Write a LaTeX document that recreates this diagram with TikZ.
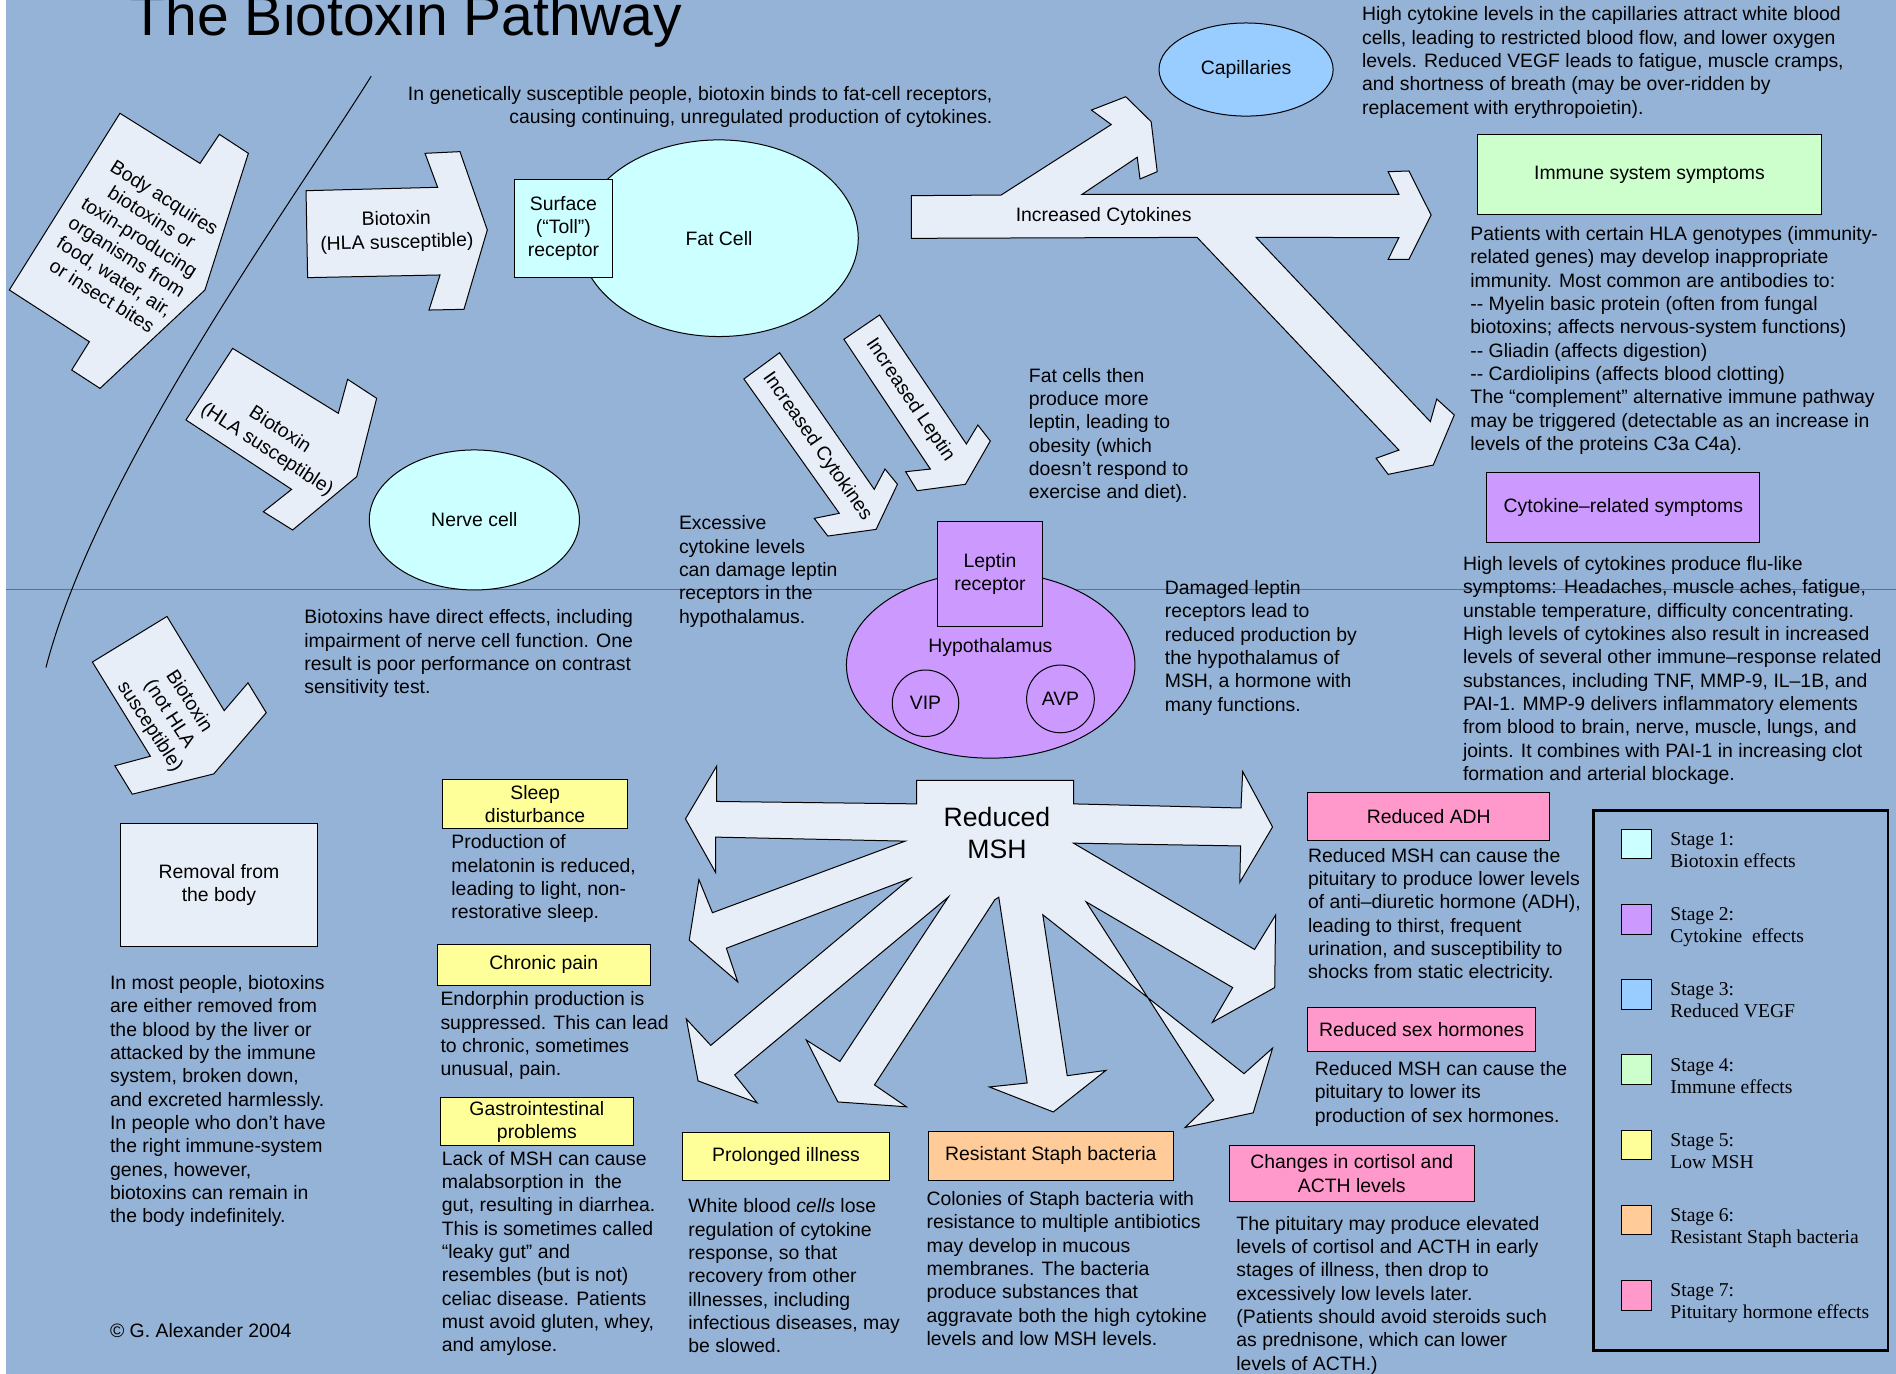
\documentclass[tikz,border=0pt]{standalone}
\usepackage{fontspec}
\setmainfont{Liberation Sans}
\newfontfamily\tmsfont{Liberation Serif}
\usetikzlibrary{shapes.geometric}
\definecolor{bgblue}{RGB}{149,179,215}
\definecolor{arrowfill}{RGB}{232,238,248}
\definecolor{cyanfill}{RGB}{204,255,255}
\definecolor{purplefill}{RGB}{204,153,255}
\definecolor{bluefill}{RGB}{153,204,255}
\definecolor{greenfill}{RGB}{204,255,204}
\definecolor{yellowfill}{RGB}{255,255,153}
\definecolor{orangefill}{RGB}{255,204,153}
\definecolor{pinkfill}{RGB}{255,153,204}
\definecolor{linebrown}{RGB}{165,95,45}
\newcommand\pxu{0.6046pt}
\begin{document}
\begin{tikzpicture}[x=0.6046pt,y=-0.6046pt,
  shp/.style={draw=black,line width=0.5pt,fill=arrowfill,line join=miter},
  txt/.style={font=\fontsize{9.7}{11.67}\selectfont,inner sep=0pt,align=left,anchor=north west},
  lbl/.style={font=\fontsize{9.7}{11.67}\selectfont,inner sep=0pt,align=center},
  boxn/.style={draw=black,line width=0.5pt,inner sep=0pt,align=center,font=\fontsize{9.7}{11.67}\selectfont},
  ell/.style={ellipse,draw=black,line width=0.5pt,inner sep=0pt,font=\fontsize{9.7}{11.67}\selectfont},
  legtxt/.style={font=\tmsfont\fontsize{9.8}{11}\selectfont,inner sep=0pt,align=left,anchor=north west},
]
\useasboundingbox (0,0) rectangle (1568,1136);
\fill[white] (0,0) rectangle (1568,1136);
\fill[bgblue] (5,0) rectangle (1568,1136);

% divider line and curve
\draw[linebrown,line width=0.6pt] (5,487.5) -- (1568,487.5);
\draw[black,line width=0.5pt] (307,63) .. controls (240,170) and (80,390) .. (38,552);

% ---------- block arrows ----------
\draw[shp] (99.2,93.7) -- (165.4,135.1) -- (181.4,111.1) -- (205.4,126.8) -- (169.5,239.8) -- (82.7,321.2) -- (59.3,306.0) -- (73.9,282.6) -- (7.7,239.8) -- cycle;
\draw[shp] (253.1,157.7) -- (361.9,154.9) -- (351.5,126.8) -- (380.4,125.4) -- (403.0,190.2) -- (383.7,255.8) -- (354.8,256.4) -- (363.9,227.4) -- (254.4,229.6) -- cycle;
\draw[shp] (192.4,288.1) -- (279.8,341.8) -- (287.5,313.7) -- (311.5,329.4) -- (295,394.2) -- (242,438.3) -- (217.8,423.2) -- (241.2,404.7) -- (153.8,347.3) -- cycle;
\draw[shp] (138.1,509.8) -- (185.4,587.7) -- (205.1,564.7) -- (220.2,589.4) -- (176.8,640) -- (109.4,656.8) -- (95,633.3) -- (124.4,625.4) -- (76.4,547.5) -- cycle;
\draw[shp] (615.2,313.4) -- (644.7,291.7) -- (723,404.7) -- (731.9,387.9) -- (742.2,400.5) -- (724.5,437.8) -- (684.6,443.3) -- (673.4,428.7) -- (694.1,424.5) -- cycle;
\draw[shp] (697.9,280.6) -- (727.4,260.5) -- (799.2,367.2) -- (808.7,351.5) -- (819,364.7) -- (798.4,400.5) -- (758.5,405.8) -- (749,390.1) -- (769.4,387.9) -- cycle;
% increased cytokines (three-way)
\draw[shp] (753.7,161.8) -- (827.9,161.3) -- (919,103) -- (902.6,91) -- (931,80) -- (952,100.6) -- (957,142) -- (942.8,148) -- (940.5,130) -- (894.9,160.7) -- (1156.9,160.7) -- (1148,142) -- (1165.2,141.4) -- (1183.5,177.8) -- (1165.2,214.5) -- (1148,214.5) -- (1156.9,196.5) -- (1038.8,196.3) -- (1182.9,348.7) -- (1188.2,330) -- (1202.7,343.2) -- (1185.3,384.6) -- (1148,392.3) -- (1138,379) -- (1156.9,372.2) -- (990,196.3) -- (753.7,197.1) -- cycle;
% reduced MSH star
\draw[shp] (758,645.4) -- (887.8,645.4) -- (887.8,664.8) -- (1026.3,668.2) -- (1027.7,638.1) -- (1052.4,683.9) -- (1025.3,729.7) -- (1026,699.6) -- (887.8,697.3)
  -- (1037.5,785.2) -- (1054.9,756.8) -- (1054.2,816.7) -- (1002.7,845.4) -- (1019.4,816.7) -- (898.2,745.8)
  -- (1003.7,909.6) -- (980.1,932.4) -- (1036.4,920.3) -- (1052.4,866.8) -- (1028.8,887.9) -- (862.4,756.5)
  -- (882.6,889.6) -- (914.6,885.2) -- (871.1,919.6) -- (818.2,898.9) -- (849.5,895.6) -- (826,742) -- (822.7,744.1)
  -- (723.2,897.2) -- (749.6,915.3) -- (692.9,911.3) -- (666.8,860.1) -- (694.6,877.8) -- (784.4,741.7)
  -- (607.6,888.9) -- (626.1,912) -- (577.3,893.9) -- (567.6,842.7) -- (587.8,864.5) -- (752.8,726.4)
  -- (600.7,784.2) -- (610.1,812) -- (570,777.5) -- (578,727.4) -- (589.2,754.8) -- (748.6,695.6)
  -- (591.9,692.3) -- (591.9,721.7) -- (566.9,677.2) -- (592.6,633.7) -- (592.6,662.8) -- (758,664.8) -- cycle;

% arrow labels
\node[lbl,rotate=-32.3] (lbody) at (110.3,204) {Body acquires\\biotoxins or\\toxin-producing\\organisms from\\food, water, air,\\or insect bites};
\node[lbl,rotate=1.5] (lbiohla) at (328,191.6) {Biotoxin\\(HLA susceptible)};
\node[lbl,rotate=-33] (lbiohla2) at (226,363.9) {Biotoxin\\(HLA susceptible)};
\node[lbl,rotate=-57] (lnothla) at (139.9,590.6) {Biotoxin\\(not HLA\\susceptible)};
\node[lbl,rotate=-55] (lcyto2) at (675.8,369.4) {Increased Cytokines};
\node[lbl,rotate=-56] (llept) at (752.6,330.8) {Increased Leptin};
\node[lbl] (lcyto) at (912.7,179.2) {Increased Cytokines};
\node[lbl,font=\fontsize{13.3}{16.2}\selectfont] (msh) at (824.5,689) {Reduced\\MSH};

% ---------- cells ----------
\node[ell,fill=cyanfill,minimum width=230.4*\pxu,minimum height=162.6*\pxu] (fat) at (594.6,197) {Fat Cell};
\node[boxn,fill=cyanfill,minimum width=81.1*\pxu,minimum height=81.3*\pxu] (surf) at (465.95,188.95) {Surface\\(“Toll”)\\receptor};
\node[ell,fill=bluefill,minimum width=144*\pxu,minimum height=77*\pxu] (cap) at (1030.5,57.5) {Capillaries};
\node[ell,fill=cyanfill,minimum width=173.8*\pxu,minimum height=115.8*\pxu] (nerve) at (392.3,430) {Nerve cell};
\node[ell,fill=purplefill,minimum width=238.6*\pxu,minimum height=154*\pxu] (hypo) at (819.3,550) {};
\node[boxn,fill=purplefill,minimum width=86.2*\pxu,minimum height=86.9*\pxu] (leprec) at (818.7,474.85) {Leptin\\receptor};
\node[lbl] (lhypo) at (819,535.6) {Hypothalamus};
\node[ell,circle,fill=purplefill,minimum size=55*\pxu] (vip) at (765.4,581.6) {VIP};
\node[ell,circle,fill=purplefill,minimum size=56*\pxu] (avp) at (877,578) {AVP};

% ---------- boxes ----------
\node[boxn,fill=greenfill,minimum width=284.8*\pxu,minimum height=65.6*\pxu] (immune) at (1364.1,144.4) {Immune system symptoms};
\node[boxn,fill=purplefill,minimum width=226*\pxu,minimum height=57.9*\pxu] (cytrel) at (1342.5,419.85) {Cytokine–related symptoms};
\node[boxn,fill=arrowfill,minimum width=162.8*\pxu,minimum height=101.8*\pxu] (removal) at (181.1,731.9) {Removal from\\the body};
\node[boxn,fill=yellowfill,minimum width=153.5*\pxu,minimum height=39.8*\pxu] (sleep) at (442.55,664.9) {Sleep\\disturbance};
\node[boxn,fill=yellowfill,minimum width=176.4*\pxu,minimum height=33.4*\pxu] (pain) at (449.7,797.9) {Chronic pain};
\node[boxn,fill=yellowfill,minimum width=159.2*\pxu,minimum height=39.4*\pxu] (gastro) at (444,927.7) {Gastrointestinal\\problems};
\node[boxn,fill=yellowfill,minimum width=170.7*\pxu,minimum height=40.2*\pxu] (prolong) at (650.05,956.4) {Prolonged illness};
\node[boxn,fill=orangefill,minimum width=202.5*\pxu,minimum height=40.2*\pxu] (staph) at (868.95,955.8) {Resistant Staph bacteria};
\node[boxn,fill=pinkfill,minimum width=202.6*\pxu,minimum height=46.3*\pxu] (cort) at (1117.9,970.65) {Changes in cortisol and\\ACTH levels};
\node[boxn,fill=pinkfill,minimum width=200.4*\pxu,minimum height=39.8*\pxu] (adh) at (1181.6,675) {Reduced ADH};
\node[boxn,fill=pinkfill,minimum width=188.6*\pxu,minimum height=36.5*\pxu] (sex) at (1175.7,851.45) {Reduced sex hormones};

% ---------- texts ----------
\node[anchor=base west,inner sep=0pt,font=\fontsize{28.5}{34}\selectfont] (title) at (108,29) {The Biotoxin Pathway};
\node[txt,anchor=north east,align=right] (tgen) at (821.1,69.2) {\strut In genetically susceptible people, biotoxin binds to fat-cell receptors,\\causing continuing, unregulated production of cytokines.};
\node[txt] (tcap) at (1126.1,3.5) {\strut High cytokine levels in the capillaries attract white blood\\cells, leading to restricted blood flow, and lower oxygen\\levels. Reduced VEGF leads to fatigue, muscle cramps,\\and shortness of breath (may be over-ridden by\\replacement with erythropoietin).};
\node[txt] (timm) at (1215.7,185) {\strut Patients with certain HLA genotypes (immunity-\\related genes) may develop inappropriate\\immunity. Most common are antibodies to:\\-\kern0pt- Myelin basic protein (often from fungal\\biotoxins; affects nervous-system functions)\\-\kern0pt- Gliadin (affects digestion)\\-\kern0pt- Cardiolipins (affects blood clotting)\\The “complement” alternative immune pathway\\may be triggered (detectable as an increase in\\levels of the proteins C3a C4a).};
\node[txt] (tcyt) at (1209.6,457.9) {\strut High levels of cytokines produce flu-like\\symptoms: Headaches, muscle aches, fatigue,\\unstable temperature, difficulty concentrating.\\High levels of cytokines also result in increased\\levels of several other immune–response related\\substances, including TNF, MMP-9, IL–1B, and\\PAI-1. MMP-9 delivers inflammatory elements\\from blood to brain, nerve, muscle, lungs, and\\joints. It combines with PAI-1 in increasing clot\\formation and arterial blockage.};
\node[txt] (tfat) at (850.6,302.1) {\strut Fat cells then\\produce more\\leptin, leading to\\obesity (which\\doesn’t respond to\\exercise and diet).};
\node[txt] (texc) at (561.2,424.3) {\strut Excessive\\cytokine levels\\can damage leptin\\receptors in the\\hypothalamus.};
\node[txt] (tdam) at (963,477.7) {\strut Damaged leptin\\receptors lead to\\reduced production by\\the hypothalamus of\\MSH, a hormone with\\many functions.};
\node[txt] (tdir) at (251.4,502) {\strut Biotoxins have direct effects, including\\impairment of nerve cell function. One\\result is poor performance on contrast\\sensitivity test.};
\node[txt] (tmost) at (90.7,804.5) {\strut In most people, biotoxins\\are either removed from\\the blood by the liver or\\attacked by the immune\\system, broken down,\\and excreted harmlessly.\\In people who don’t have\\the right immune-system\\genes, however,\\biotoxins can remain in\\the body indefinitely.};
\node[anchor=base west,inner sep=0pt,font=\fontsize{9.7}{11.67}\selectfont] (copy) at (90.7,1106.5) {© G. Alexander 2004};
\node[txt] (tsleep) at (373,688.1) {\strut Production of\\melatonin is reduced,\\leading to light, non-\\restorative sleep.};
\node[txt] (tpain) at (364,817.9) {\strut Endorphin production is\\suppressed. This can lead\\to chronic, sometimes\\unusual, pain.};
\node[txt] (tgastro) at (365.1,949.8) {\strut Lack of MSH can cause\\malabsorption in\ \ the\\gut, resulting in diarrhea.\\This is sometimes called\\“leaky gut” and\\resembles (but is not)\\celiac disease. Patients\\must avoid gluten, whey,\\and amylose.};
\node[txt] (tprolong) at (569,989.1) {\strut White blood \textit{cells} lose\\regulation of cytokine\\response, so that\\recovery from other\\illnesses, including\\infectious diseases, may\\be slowed.};
\node[txt] (tstaph) at (766,983.1) {\strut Colonies of Staph bacteria with\\resistance to multiple antibiotics\\may develop in mucous\\membranes. The bacteria\\produce substances that\\aggravate both the high cytokine\\levels and low MSH levels.};
\node[txt] (tcort) at (1022.2,1003.6) {\strut The pituitary may produce elevated\\levels of cortisol and ACTH in early\\stages of illness, then drop to\\excessively low levels later.\\(Patients should avoid steroids such\\as prednisone, which can lower\\levels of ACTH.)};
\node[txt] (tadh) at (1081.4,699.2) {\strut Reduced MSH can cause the\\pituitary to produce lower levels\\of anti–diuretic hormone (ADH),\\leading to thirst, frequent\\urination, and susceptibility to\\shocks from static electricity.};
\node[txt] (tsex) at (1087,875.7) {\strut Reduced MSH can cause the\\pituitary to lower its\\production of sex hormones.};

% ---------- legend ----------
\draw[black,line width=1.2pt] (1317.7,670.3) rectangle (1561.6,1116.9);
\foreach \n/\c/\t in {1/cyanfill/Biotoxin effects,2/purplefill/Cytokine\ \ effects,3/bluefill/Reduced VEGF,4/greenfill/Immune effects,5/yellowfill/Low MSH,6/orangefill/Resistant Staph bacteria,7/pinkfill/Pituitary hormone effects}{
  \draw[black,line width=0.5pt,fill=\c] (1341.1,{685.7+62.2*(\n-1)}) rectangle (1365.9,{710.3+62.2*(\n-1)});
  \node[legtxt] (leg\n) at (1381.1,{686.2+62.2*(\n-1)}) {\strut Stage \n:\\\t};
}
\end{tikzpicture}
\end{document}
